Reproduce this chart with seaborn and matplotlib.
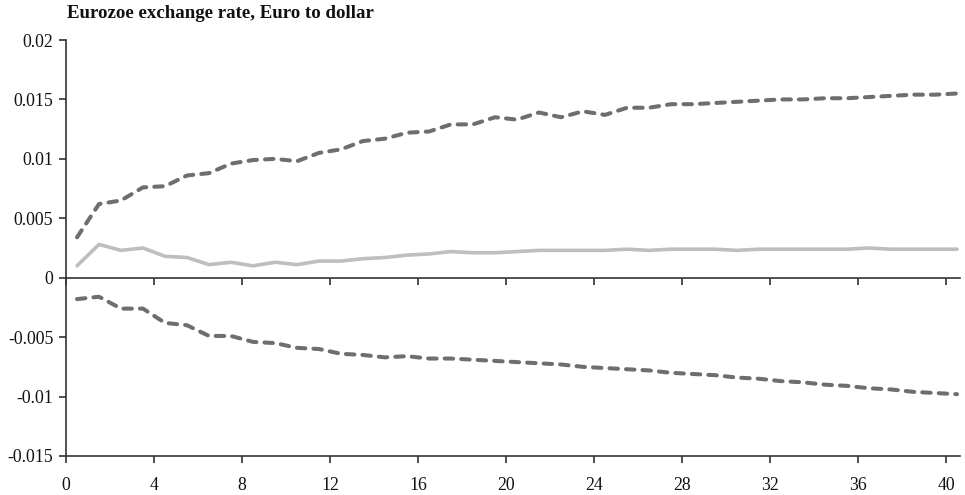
import numpy as np
import pandas as pd
import matplotlib
matplotlib.use("Agg")
import matplotlib.pyplot as plt
from matplotlib.ticker import FuncFormatter
import seaborn as sns

# Impulse response horizon (periods, plotted at mid-period)
horizon = np.arange(41) + 0.5

# Point response of the exchange rate
response = [0.0010, 0.0028, 0.0023, 0.0025, 0.0018, 0.0017, 0.0011, 0.0013, 0.0010, 0.0013,
            0.0011, 0.0014, 0.0014, 0.0016, 0.0017, 0.0019, 0.0020, 0.0022, 0.0021, 0.0021,
            0.0022, 0.0023, 0.0023, 0.0023, 0.0023, 0.0024, 0.0023, 0.0024, 0.0024, 0.0024,
            0.0023, 0.0024, 0.0024, 0.0024, 0.0024, 0.0024, 0.0025, 0.0024, 0.0024, 0.0024,
            0.0024]

# Upper confidence bound
upper = [0.0034, 0.0062, 0.0065, 0.0076, 0.0077, 0.0086, 0.0088, 0.0096, 0.0099, 0.0100,
         0.0098, 0.0105, 0.0108, 0.0115, 0.0117, 0.0122, 0.0123, 0.0129, 0.0129, 0.0135,
         0.0133, 0.0139, 0.0135, 0.0140, 0.0137, 0.0143, 0.0143, 0.0146, 0.0146, 0.0147,
         0.0148, 0.0149, 0.0150, 0.0150, 0.0151, 0.0151, 0.0152, 0.0153, 0.0154, 0.0154,
         0.0155]

# Lower confidence bound
lower = [-0.0018, -0.0016, -0.0026, -0.0026, -0.0038, -0.0040, -0.0049, -0.0049, -0.0054, -0.0055,
         -0.0059, -0.0060, -0.0064, -0.0065, -0.0067, -0.0066, -0.0068, -0.0068, -0.0069, -0.0070,
         -0.0071, -0.0072, -0.0073, -0.0075, -0.0076, -0.0077, -0.0078, -0.0080, -0.0081, -0.0082,
         -0.0084, -0.0085, -0.0087, -0.0088, -0.0090, -0.0091, -0.0093, -0.0094, -0.0096, -0.0097,
         -0.0098]

title = "Eurozoe exchange rate, Euro to dollar"
x_ticks = list(range(0, 41, 4))
y_ticks = [-0.015, -0.01, -0.005, 0, 0.005, 0.01, 0.015, 0.02]

sns.set_style("ticks")
plt.rcParams["font.family"] = ["Liberation Serif", "DejaVu Serif"]

axis_col = "#333333"
band_col = "#6d6e71"
resp_col = "#bdbec1"

fig = plt.figure(figsize=(9.65, 4.95), dpi=100)
ax = fig.add_axes([66 / 965, 1 - 456 / 495, (960 - 66) / 965, (456 - 40) / 495])

df = pd.DataFrame({"h": horizon, "response": response, "upper": upper, "lower": lower})

sns.lineplot(data=df, x="h", y="response", ax=ax, color=resp_col, lw=2.6,
             solid_capstyle="round", solid_joinstyle="round")
for col in ("upper", "lower"):
    sns.lineplot(data=df, x="h", y=col, ax=ax, color=band_col, lw=2.9,
                 linestyle=(0, (2.1, 2.0)), dash_capstyle="round")

ax.set_xlim(0, (960 - 66) / 22)
ax.set_ylim(-0.015, 0.02)
ax.set_xticks(x_ticks)
ax.set_yticks(y_ticks)
ax.yaxis.set_major_formatter(FuncFormatter(lambda v, p: f"{v:g}"))
ax.set_xlabel("")
ax.set_ylabel("")

for side in ("top", "right"):
    ax.spines[side].set_visible(False)
for side in ("left", "bottom"):
    ax.spines[side].set_color(axis_col)
    ax.spines[side].set_linewidth(1.2)
ax.tick_params(axis="both", colors=axis_col, length=5, width=1.2, labelcolor="#111111",
               labelsize=12.8)
ax.tick_params(axis="x", pad=10)
ax.tick_params(axis="y", pad=4)

# Zero line carrying its own tick marks
y0, y1 = ax.get_ylim()
zero_pos = (0 - y0) / (y1 - y0)
sec = ax.secondary_xaxis(zero_pos)
sec.set_xticks(x_ticks)
sec.tick_params(axis="x", direction="out", length=5, width=1.2, colors=axis_col,
                labelbottom=False, labeltop=False)
for sp in sec.spines.values():
    sp.set_color(axis_col)
    sp.set_linewidth(1.2)

fig.text(67 / 965, 1 - 14 / 495, title, fontsize=13.6, fontweight="bold",
         ha="left", va="center", color="#111111")

fig.savefig("out.png", dpi=100, facecolor="white")
